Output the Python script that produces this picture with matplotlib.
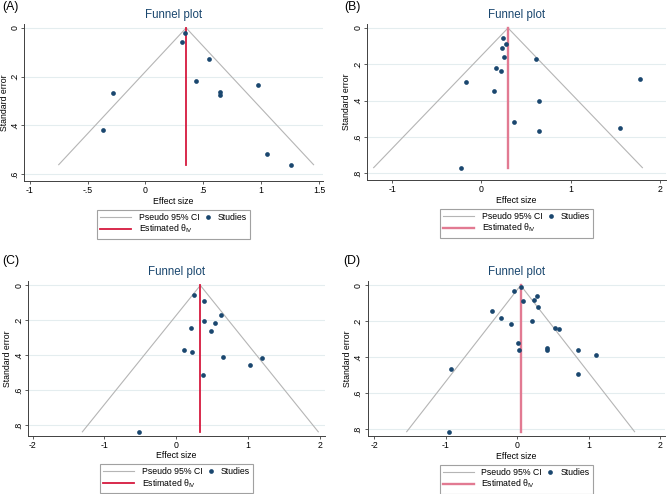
import numpy as np
import matplotlib
matplotlib.use('Agg')
import matplotlib.pyplot as plt
from matplotlib.lines import Line2D
from matplotlib.legend_handler import HandlerLine2D

plt.rcParams['font.family'] = ['Liberation Sans', 'DejaVu Sans']
plt.rcParams['mathtext.fontset'] = 'custom'
plt.rcParams['mathtext.rm'] = 'Liberation Sans'
plt.rcParams['mathtext.it'] = 'Liberation Sans:italic'

# effect sizes / standard errors
es_a = [0.341, 0.318, 0.548, 0.439, 0.646, 0.646, 0.972, -0.283, -0.364, 1.055, 1.259]
se_a = [0.022, 0.059, 0.127, 0.219, 0.264, 0.277, 0.234, 0.267, 0.418, 0.519, 0.562]
theta_a = 0.352

es_b = [0.246, 0.280, 0.228, 0.250, 0.168, 0.224, -0.176, 0.138, -0.232, 0.366,
        0.617, 1.783, 0.650, 0.647, 1.556]
se_b = [0.053, 0.088, 0.112, 0.160, 0.222, 0.235, 0.297, 0.349, 0.769, 0.516,
        0.169, 0.281, 0.404, 0.565, 0.549]
theta_b = 0.299

es_c = [0.250, 0.389, 0.626, 0.389, 0.542, 0.209, 0.478, 0.111, 0.218, 0.645,
        1.192, 1.021, 0.367, -0.523]
se_c = [0.054, 0.091, 0.170, 0.206, 0.216, 0.242, 0.261, 0.370, 0.383, 0.411,
        0.417, 0.457, 0.514, 0.837]
theta_c = 0.334

es_d = [0.050, -0.043, 0.083, 0.278, 0.236, 0.297, 0.208, 0.526, 0.582, 0.008,
        0.022, 0.418, 0.418, 0.852, 1.108, 0.852, -0.347, -0.221, -0.090, -0.924, -0.948]
se_d = [0.008, 0.033, 0.089, 0.058, 0.080, 0.119, 0.200, 0.239, 0.241, 0.319,
        0.359, 0.347, 0.361, 0.358, 0.389, 0.491, 0.143, 0.183, 0.215, 0.463, 0.813]
theta_d = 0.050

xticks_a = [-1, -0.5, 0, 0.5, 1, 1.5]
xticks_b = [-1, 0, 1, 2]
xticks_cd = [-2, -1, 0, 1, 2]
yticks_a = [0, 0.2, 0.4, 0.6]
yticks_bcd = [0, 0.2, 0.4, 0.6, 0.8]

navy = '#1a476f'
grey_line = '#b5b5b5'
grid_col = '#e4edef'
axis_col = '#404040'


def stata_fmt(v):
    s = f'{v:g}'
    if s.startswith('0.'):
        s = s[1:]
    elif s.startswith('-0.'):
        s = '-' + s[2:]
    return s


class RightMarker(HandlerLine2D):
    # single marker sitting at the right end of the handle box
    def get_xdata(self, legend, xdescent, ydescent, width, height, fontsize):
        xd = [-xdescent + width - 0.5 * fontsize, -xdescent + width]
        return xd, xd


fig = plt.figure(figsize=(6.67, 4.94), dpi=100)
W, H = 667, 494

panels = [
    # label, es, se, theta, xticks, yticks, xlim, ylim, axes box (px), red colour, red lw
    ('(A)', es_a, se_a, theta_a, xticks_a, yticks_a, (-1.047, 1.535), (0.629, -0.016),
     (24.3, 24, 323, 181), '#d6193e', 1.3, (2, 1)),
    ('(B)', es_b, se_b, theta_b, xticks_b, yticks_bcd, (-1.283, 2.071), (0.837, -0.022),
     (367, 24, 666, 180), '#e27a92', 1.7, (344, 1)),
    ('(C)', es_c, se_c, theta_c, xticks_cd, yticks_bcd, (-2.063, 2.068), (0.858, -0.025),
     (28, 281, 325, 435.5), '#d6193e', 1.3, (2, 255)),
    ('(D)', es_d, se_d, theta_d, xticks_cd, yticks_bcd, (-2.092, 2.069), (0.837, -0.024),
     (367.5, 281, 665, 436), '#e27a92', 1.7, (343, 255)),
]

for lab, es, se, theta, xt, yt, xl, yl, box, red, red_lw, labpos in panels:
    x0, y0, x1, y1 = box
    ax = fig.add_axes([x0 / W, 1 - y1 / H, (x1 - x0) / W, (y1 - y0) / H])
    se_max = max(se)
    lo = theta - 1.96 * se_max
    hi = theta + 1.96 * se_max
    ci, = ax.plot([lo, theta, hi], [se_max, 0, se_max], color=grey_line, lw=0.8, zorder=2)
    est, = ax.plot([theta, theta], [0, se_max], color=red, lw=red_lw, zorder=3)
    ax.plot(es, se, 'o', color=navy, ms=3.4, mew=0, zorder=4)
    ax.set_xlim(*xl)
    ax.set_ylim(*yl)
    ax.set_xticks(xt)
    ax.set_xticklabels([stata_fmt(v) for v in xt])
    ax.set_yticks(yt)
    ax.set_yticklabels([stata_fmt(v) for v in yt], rotation=90, va='center')
    ax.grid(axis='y', color=grid_col, lw=0.8, zorder=0)
    ax.set_axisbelow(True)
    for s in ['top', 'right']:
        ax.spines[s].set_visible(False)
    for s in ['left', 'bottom']:
        ax.spines[s].set_color(axis_col)
        ax.spines[s].set_linewidth(0.7)
    ax.tick_params(axis='both', colors=axis_col, labelcolor='black', labelsize=6.3,
                   length=2.5, width=0.6)
    ax.tick_params(axis='x', pad=1.2)
    ax.tick_params(axis='y', pad=1.0)
    ax.set_xlabel('Effect size', fontsize=6.3, labelpad=1)
    ax.set_ylabel('Standard error', fontsize=6.3, labelpad=1.2)
    ax.set_title('Funnel plot', color=navy, fontsize=8.3, pad=4.5)

    st = Line2D([], [], ls='none', marker='o', color=navy, ms=3.4, mew=0)
    cx = (x0 + x1) / 2 / W
    leg = fig.legend([ci, est, st],
                     ['Pseudo 95% CI', 'Estimated θ$_{\\mathrm{IV}}$', 'Studies'],
                     handler_map={st: RightMarker(numpoints=1)},
                     loc='upper center', bbox_to_anchor=(cx, 1 - (y1 + 24.5) / H),
                     ncol=2, fontsize=6.3, frameon=True, fancybox=False,
                     handlelength=3.5, handletextpad=0.9, columnspacing=-2.3,
                     borderpad=0.35, labelspacing=0.12)
    fr = leg.get_frame()
    fr.set_edgecolor('#8a8a8a')
    fr.set_linewidth(0.8)

    fig.text(labpos[0] / W, 1 - labpos[1] / H, lab, fontsize=8.8, va='top', ha='left')

fig.savefig('out.png', dpi=100)
